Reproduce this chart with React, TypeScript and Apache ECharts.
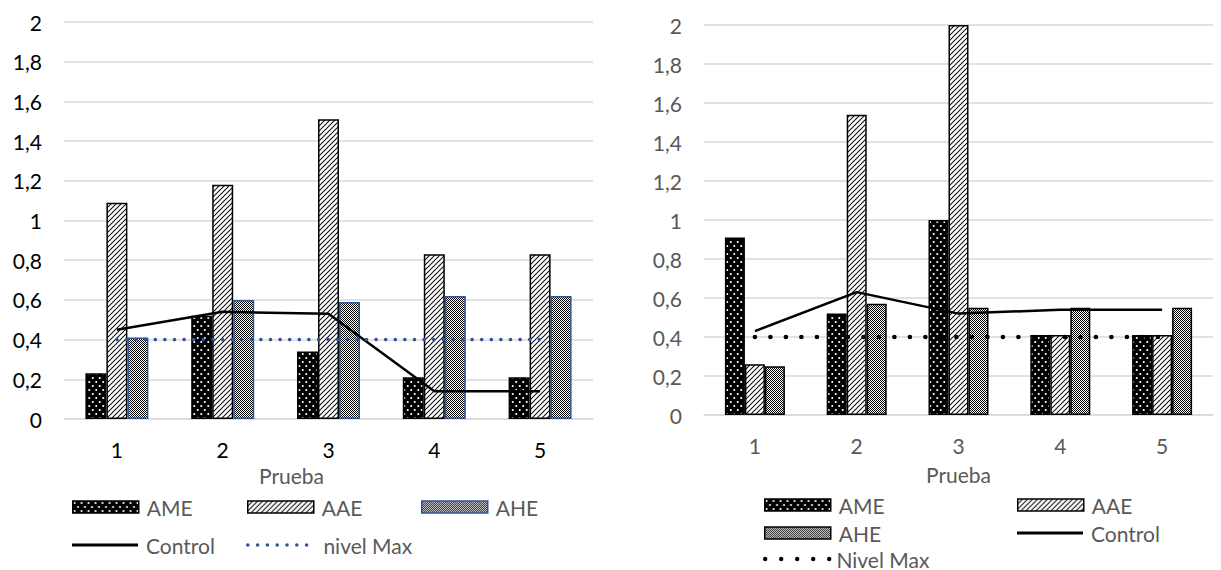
import React, { useEffect, useRef } from 'react';
import * as echarts from 'echarts';

const categories = ['1', '2', '3', '4', '5'];

const leftAME = [0.23, 0.52, 0.34, 0.21, 0.21];
const leftAAE = [1.09, 1.18, 1.51, 0.83, 0.83];
const leftAHE = [0.41, 0.6, 0.59, 0.62, 0.62];
const leftControl = [0.45, 0.54, 0.53, 0.14, 0.14];
const leftNivelMax = [0.4, 0.4, 0.4, 0.4, 0.4];

const rightAME = [0.91, 0.52, 1.0, 0.41, 0.41];
const rightAAE = [0.26, 1.54, 2.0, 0.41, 0.41];
const rightAHE = [0.25, 0.57, 0.55, 0.55, 0.55];
const rightControl = [0.43, 0.63, 0.52, 0.54, 0.54];
const rightNivelMax = [0.4, 0.4, 0.4, 0.4, 0.4];

const FONT = 'Lato, "Liberation Sans", sans-serif';
const GRID_COLOR = '#d9d9d9';
const GRAY_TEXT = '#595959';
const BLUE = '#2F5597';

function makePattern(kind: 'dots' | 'hatch' | 'checker') {
  let S = 4;
  let w = 7;
  let h = 8;
  if (kind === 'hatch') { w = 5; h = 5; }
  if (kind === 'checker') { w = 2; h = 2; S = 1; }
  const c = document.createElement('canvas');
  c.width = w * S;
  c.height = h * S;
  const ctx = c.getContext('2d')!;
  ctx.scale(S, S);
  if (kind === 'dots') {
    ctx.fillStyle = '#000';
    ctx.fillRect(0, 0, w, h);
    ctx.fillStyle = '#fff';
    ctx.beginPath();
    ctx.arc(1.75, 2, 1.0, 0, Math.PI * 2);
    ctx.fill();
    ctx.beginPath();
    ctx.arc(5.25, 6, 1.0, 0, Math.PI * 2);
    ctx.fill();
  } else if (kind === 'hatch') {
    ctx.fillStyle = '#fff';
    ctx.fillRect(0, 0, w, h);
    ctx.strokeStyle = '#000';
    ctx.lineWidth = 1.0;
    for (const off of [-w, 0, w]) {
      ctx.beginPath();
      ctx.moveTo(off - 1, h + 1);
      ctx.lineTo(off + w + 1, -1);
      ctx.stroke();
    }
  } else {
    ctx.fillStyle = '#fff';
    ctx.fillRect(0, 0, w, h);
    ctx.fillStyle = '#000';
    ctx.fillRect(0, 0, 1, 1);
    ctx.fillRect(1, 1, 1, 1);
  }
  return { image: c.toDataURL(), imageWidth: w, imageHeight: h, repeat: 'repeat' };
}

function dotsPath(n: number, gap: number, r: number) {
  let d = 'path://';
  for (let i = 0; i < n; i++) {
    const cx = r + i * gap;
    d += `M${cx - r},${r}a${r},${r} 0 1,0 ${2 * r},0a${r},${r} 0 1,0 ${-2 * r},0Z`;
  }
  return d;
}

const fmt = (v: number) => String(Math.round(v * 10) / 10).replace('.', ',');

function legendItem(name: string, left: number, cy: number, extra: any = {}) {
  return {
    show: true,
    data: [name],
    left,
    top: cy - 11,
    padding: 0,
    itemWidth: 66,
    itemHeight: 12,
    itemGap: 0,
    selectedMode: false,
    icon: 'rect',
    textStyle: { fontFamily: FONT, fontSize: 21, color: GRAY_TEXT, lineHeight: 22, padding: [0, 0, 0, 3] },
    itemStyle: { borderWidth: 1.5 },
    ...extra,
  };
}

function buildOption(side: 'left' | 'right') {
  const isLeft = side === 'left';
  const pats = { dots: makePattern('dots'), hatch: makePattern('hatch'), checker: makePattern('checker') };
  const AME = isLeft ? leftAME : rightAME;
  const AAE = isLeft ? leftAAE : rightAAE;
  const AHE = isLeft ? leftAHE : rightAHE;
  const control = isLeft ? leftControl : rightControl;
  const nivel = isLeft ? leftNivelMax : rightNivelMax;
  const nivelName = isLeft ? 'nivel Max' : 'Nivel Max';
  const barWidth = isLeft ? 21 : 20;
  const tickColor = isLeft ? '#000' : GRAY_TEXT;
  const nivelColor = isLeft ? BLUE : '#000';

  const legends = isLeft
    ? [
        legendItem('AME', 72, 507),
        legendItem('AAE', 247, 507),
        legendItem('AHE', 421, 507),
        legendItem('Control', 72, 545, { itemHeight: 3, itemStyle: { color: '#000', borderWidth: 0 } }),
        legendItem(nivelName, 246, 545, {
          icon: dotsPath(7, 9.8, 1.8),
          itemWidth: 62.4,
          itemHeight: 3.6,
          itemStyle: { color: BLUE, borderWidth: 0 },
          textStyle: { fontFamily: FONT, fontSize: 21, color: GRAY_TEXT, lineHeight: 22, padding: [0, 0, 0, 10] },
        }),
      ]
    : [
        legendItem('AME', 154, 505),
        legendItem('AAE', 407, 505),
        legendItem('AHE', 154, 533),
        legendItem('Control', 407, 533, { itemHeight: 3, itemStyle: { color: '#000', borderWidth: 0 } }),
        legendItem(nivelName, 153, 559, {
          icon: dotsPath(5, 16, 2.2),
          itemWidth: 68.4,
          itemHeight: 4.4,
          itemStyle: { color: '#000', borderWidth: 0 },
          textStyle: { fontFamily: FONT, fontSize: 21, color: GRAY_TEXT, lineHeight: 22, padding: [0, 0, 0, 0] },
        }),
      ];

  const barBase = { type: 'bar', barWidth, barGap: '0%', emphasis: { disabled: true }, silent: true };

  return {
    animation: false,
    backgroundColor: '#fff',
    textStyle: { fontFamily: FONT },
    grid: isLeft
      ? { left: 64, top: 22, width: 529, height: 397 }
      : { left: 94, top: 25, width: 509, height: 390 },
    legend: legends,
    xAxis: {
      type: 'category',
      data: categories,
      axisTick: { show: false },
      axisLine: { lineStyle: { color: GRID_COLOR, width: 1.5 } },
      axisLabel: { fontFamily: FONT, fontSize: 21, color: tickColor, margin: 20 },
      name: 'Prueba',
      nameLocation: 'middle',
      nameGap: isLeft ? 40 : 49,
      nameTextStyle: {
        fontFamily: FONT,
        fontSize: 21,
        color: GRAY_TEXT,
        padding: isLeft ? [0, 74, 0, 0] : [0, 0, 0, 0],
      },
    },
    yAxis: {
      type: 'value',
      min: 0,
      max: 2,
      interval: 0.2,
      axisLine: { show: false },
      axisTick: { show: false },
      axisLabel: { fontFamily: FONT, fontSize: 21, color: tickColor, margin: 22, formatter: fmt },
      splitLine: { lineStyle: { color: GRID_COLOR, width: 1.5 } },
    },
    series: [
      { ...barBase, name: 'AME', data: AME, itemStyle: { color: pats.dots, borderColor: '#000', borderWidth: 1.5 } },
      { ...barBase, name: 'AAE', data: AAE, itemStyle: { color: pats.hatch, borderColor: '#000', borderWidth: 1.5 } },
      {
        ...barBase,
        name: 'AHE',
        data: AHE,
        itemStyle: { color: pats.checker, borderColor: isLeft ? BLUE : '#000', borderWidth: 1.5 },
      },
      {
        type: 'line',
        name: 'Control',
        data: control,
        symbol: 'none',
        z: 5,
        silent: true,
        emphasis: { disabled: true },
        lineStyle: { color: '#000', width: 2.5 },
        itemStyle: { color: '#000' },
      },
      {
        type: 'line',
        name: nivelName,
        data: nivel,
        symbol: 'none',
        z: 6,
        silent: true,
        emphasis: { disabled: true },
        lineStyle: isLeft
          ? { color: nivelColor, width: 3.6, type: [0, 9.6], cap: 'round' }
          : { color: nivelColor, width: 4.6, type: [0, 15.5], cap: 'round' },
        itemStyle: { color: nivelColor },
      },
    ],
  };
}

export default function App() {
  const leftRef = useRef<HTMLDivElement>(null);
  const rightRef = useRef<HTMLDivElement>(null);
  useEffect(() => {
    const l = echarts.init(leftRef.current!, null, { renderer: 'svg' });
    const r = echarts.init(rightRef.current!, null, { renderer: 'svg' });
    l.setOption(buildOption('left') as any);
    r.setOption(buildOption('right') as any);
    return () => {
      l.dispose();
      r.dispose();
    };
  }, []);
  return (
    <div style={{ position: 'absolute', left: 0, top: 0, width: 1221, height: 570, background: '#fff' }}>
      <div ref={leftRef} style={{ position: 'absolute', left: 0, top: 0, width: 610, height: 570 }} />
      <div ref={rightRef} style={{ position: 'absolute', left: 610, top: 0, width: 611, height: 570 }} />
    </div>
  );
}
